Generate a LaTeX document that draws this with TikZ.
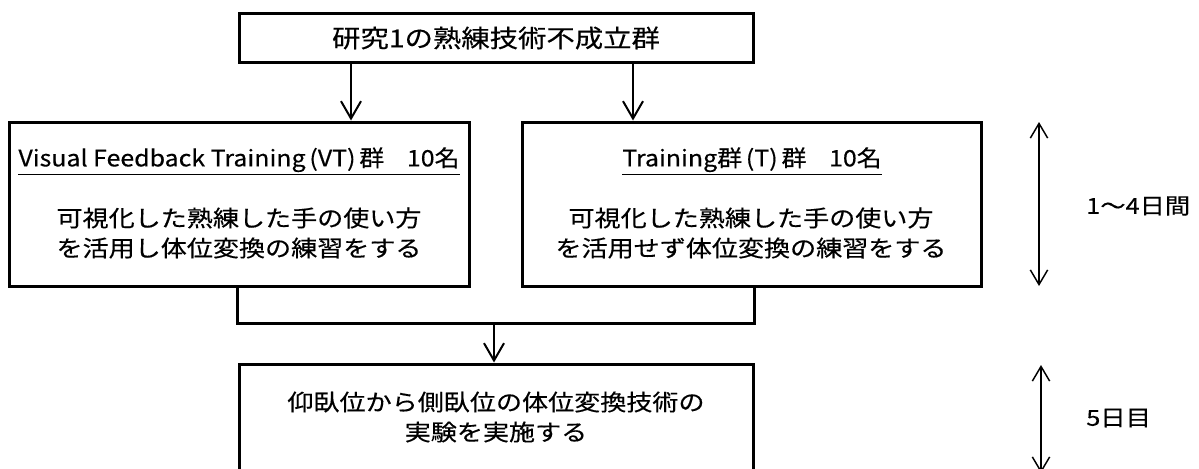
\documentclass[tikz,border=0pt]{standalone}
\usepackage{fontspec}
\setmainfont{Noto Sans CJK JP}[FakeStretch=1.15, FakeBold=0.35]
\newfontfamily\titlefont{Noto Sans CJK JP}[FakeStretch=1.1, FakeBold=0.35]
\usetikzlibrary{arrows.meta}
\tikzset{
  box/.style={draw, line width=2.25pt, inner sep=0pt},
  joinline/.style={draw, line width=2.25pt},
  arr/.style={line width=1.5pt, -{Straight Barb[length=13pt,width=15pt]}},
  darr/.style={line width=1.1pt, {Straight Barb[length=11pt,width=13pt]}-{Straight Barb[length=11pt,width=13pt]}},
  txt/.style={inner sep=0pt, align=center, font=\fontsize{17}{22.5}\selectfont},
  ttl/.style={inner sep=0pt, align=center, font=\titlefont\fontsize{17}{22.5}\selectfont},
  toptxt/.style={inner sep=0pt, align=center, font=\fontsize{18.5}{22.5}\selectfont},
  lbl/.style={inner sep=0pt, anchor=west, font=\fontsize{16.5}{18}\selectfont},
}
\begin{document}
\begin{tikzpicture}[x=0.75pt, y=-0.75pt]
\useasboundingbox (0,0) rectangle (1199,468);
% boxes
\node[box, minimum width=385.5pt, minimum height=36.75pt] (T) at (496,37.5) {};
\node[toptxt] (Ttxt) at (496,38) {研究1の熟練技術不成立群};
\node[box, minimum width=345pt, minimum height=123pt] (L) at (239.3,204) {};
\node[box, minimum width=344.25pt, minimum height=123pt] (R) at (751.5,204) {};
\node[box, minimum width=385.5pt, minimum height=82.5pt] (B) at (496,419) {};
% texts
\node[ttl] (Ltitle) at (239,161) {\underline{Visual Feedback Training\,(VT)\,群\quad 10名}};
\node[ttl] (Rtitle) at (752,161) {\underline{Training群\,(T)\,群\quad 10名}};
\node[txt] (Lbody) at (239,233) {可視化した熟練した手の使い方\\を活用し体位変換の練習をする};
\node[txt] (Rbody) at (751,233) {可視化した熟練した手の使い方\\を活用せず体位変換の練習をする};
\node[txt] (Bbody) at (496,417) {仰臥位から側臥位の体位変換技術の\\実験を実施する};
% arrows from top
\coordinate (a1) at (351,0);
\coordinate (a2) at (633,0);
\draw[arr] (T.south -| a1) -- (L.north -| a1);
\draw[arr] (T.south -| a2) -- (R.north -| a2);
% joiner
\coordinate (j) at (494,323);
\draw[joinline] (L.south -| B.west) |- (j) -| (R.south -| B.east);
\draw[arr] (j) -- (B.north -| j);
% duration arrows
\coordinate (d1a) at (1039,122);
\coordinate (d1b) at (1039,286);
\coordinate (d2a) at (1041,365);
\coordinate (d2b) at (1041,473);
\draw[darr] (d1a) -- (d1b);
\draw[darr] (d2a) -- (d2b);
\node[lbl] (l1) at (1086,206) {1～4日間};
\node[lbl] (l2) at (1086,418) {5日目};
\end{tikzpicture}
\end{document}
